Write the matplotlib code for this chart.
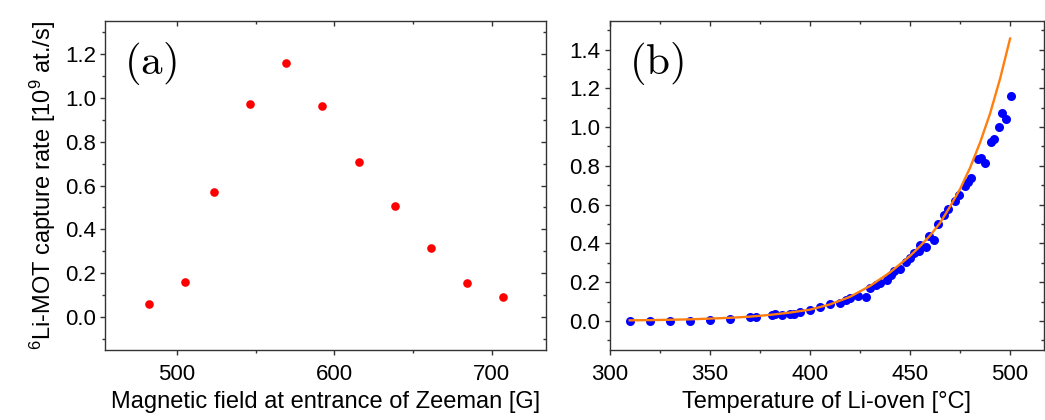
import matplotlib
matplotlib.use("Agg")
import matplotlib.pyplot as plt
from matplotlib.ticker import MultipleLocator

# panel (a): capture rate vs Zeeman entrance field
field = [482.3, 505.2, 523.6, 546.7, 569.4, 592.5, 615.4, 638.3, 661.5, 684.1, 707.3]
rate_a = [0.062, 0.161, 0.571, 0.971, 1.158, 0.963, 0.706, 0.505, 0.315, 0.155, 0.090]

# panel (b): capture rate vs oven temperature
temp = [310, 320, 330, 340, 350, 360, 370, 373, 381, 382.5, 386, 390, 392, 395,
        400, 405, 410, 415, 418, 420, 424, 428, 430, 433, 435, 438.5, 440.5, 442,
        445, 448, 450, 452, 454.5, 455, 458, 459.5, 462, 464, 467, 469, 472.5,
        474.5, 477.5, 479, 480.5, 484, 485.5, 487.5, 490.3, 492, 494.3, 496.2,
        498.2, 500.2]
rate_b = [0.0, 0.0, 0.0, 0.0, 0.007, 0.011, 0.018, 0.019, 0.030, 0.035, 0.032,
          0.034, 0.038, 0.046, 0.056, 0.070, 0.085, 0.095, 0.110, 0.118, 0.131,
          0.125, 0.168, 0.184, 0.195, 0.210, 0.235, 0.256, 0.266, 0.302, 0.323,
          0.350, 0.360, 0.392, 0.380, 0.437, 0.420, 0.500, 0.548, 0.580, 0.620,
          0.652, 0.696, 0.718, 0.735, 0.833, 0.840, 0.815, 0.925, 0.940, 1.000,
          1.073, 1.040, 1.160]

# fit curve
fit_temp = [310, 320, 330, 340, 350, 360, 370, 380, 390, 400, 410, 420, 430,
            440, 450, 455, 460, 465, 470, 475, 480, 485, 490, 495, 500]
fit_rate = [0.003, 0.004, 0.006, 0.008, 0.012, 0.016, 0.022, 0.031, 0.043,
            0.058, 0.085, 0.124, 0.180, 0.250, 0.335, 0.385, 0.440, 0.505,
            0.590, 0.680, 0.790, 0.920, 1.070, 1.250, 1.457]

plt.rcParams['font.family'] = 'Liberation Sans'
plt.rcParams['mathtext.fontset'] = 'custom'
plt.rcParams['mathtext.rm'] = 'Liberation Sans'
plt.rcParams['mathtext.it'] = 'Liberation Sans:italic'

SPINE = '#333333'
TICK_FS = 16
LABEL_FS = 17


def style_axes(ax, xmaj, xmin, ymaj, ymin):
    for sp in ax.spines.values():
        sp.set_color(SPINE)
        sp.set_linewidth(1.0)
    ax.xaxis.set_major_locator(MultipleLocator(xmaj))
    ax.xaxis.set_minor_locator(MultipleLocator(xmin))
    ax.yaxis.set_major_locator(MultipleLocator(ymaj))
    ax.yaxis.set_minor_locator(MultipleLocator(ymin))
    ax.tick_params(which='major', direction='out', length=3.6, width=1.0,
                   color=SPINE, labelsize=TICK_FS)
    ax.tick_params(which='minor', direction='out', length=2.5, width=1.0,
                   color=SPINE)
    ax.tick_params(axis='x', which='major', pad=6.5)
    ax.tick_params(axis='y', which='major', pad=3)

    # inward ticks on the top and right sides
    top = ax.secondary_xaxis('top')
    top.xaxis.set_major_locator(MultipleLocator(xmaj))
    top.xaxis.set_minor_locator(MultipleLocator(xmin))
    top.tick_params(which='both', direction='in', labeltop=False, color=SPINE, width=1.0)
    top.tick_params(which='major', length=3.6)
    top.tick_params(which='minor', length=2.5)
    top.spines['top'].set_visible(False)
    right = ax.secondary_yaxis('right')
    right.yaxis.set_major_locator(MultipleLocator(ymaj))
    right.yaxis.set_minor_locator(MultipleLocator(ymin))
    right.tick_params(which='both', direction='in', labelright=False, color=SPINE, width=1.0)
    right.tick_params(which='major', length=3.6)
    right.tick_params(which='minor', length=2.5)
    right.spines['right'].set_visible(False)


fig = plt.figure(figsize=(10.45, 4.2), dpi=100)
ax_a = fig.add_axes([0.1009, 0.1667, 0.422, 0.7831])
ax_b = fig.add_axes([0.5834, 0.1667, 0.4152, 0.7831])

ax_a.plot(field, rate_a, 'o', color='#ff0000', markersize=6.2, markeredgewidth=0)
ax_a.set_xlim(454.7, 734.7)
ax_a.set_ylim(-0.15, 1.35)
style_axes(ax_a, 100, 50, 0.2, 0.1)
ax_a.set_xlabel('Magnetic field at entrance of Zeeman [G]', fontsize=LABEL_FS, labelpad=4)
ax_a.set_ylabel(r'$^{6}$Li-MOT capture rate [10$^{9}$ at./s]', fontsize=LABEL_FS, labelpad=5)
ax_a.text(0.042, 0.87, r'$\mathrm{(a)}$', transform=ax_a.transAxes,
          fontsize=31, math_fontfamily='cm', ha='left', va='center')

ax_b.plot(temp, rate_b, 'o', color='#0000ff', markersize=6.5, markeredgewidth=0, zorder=2)
ax_b.plot(fit_temp, fit_rate, '-', color='#ff7f0e', linewidth=1.7, zorder=3)
ax_b.set_xlim(300, 516.7)
ax_b.set_ylim(-0.15, 1.547)
style_axes(ax_b, 50, 25, 0.2, 0.1)
ax_b.set_xlabel('Temperature of Li-oven [°C]', fontsize=LABEL_FS, labelpad=4)
ax_b.text(0.044, 0.87, r'$\mathrm{(b)}$', transform=ax_b.transAxes,
          fontsize=31, math_fontfamily='cm', ha='left', va='center')

fig.savefig('out.png', dpi=100)
